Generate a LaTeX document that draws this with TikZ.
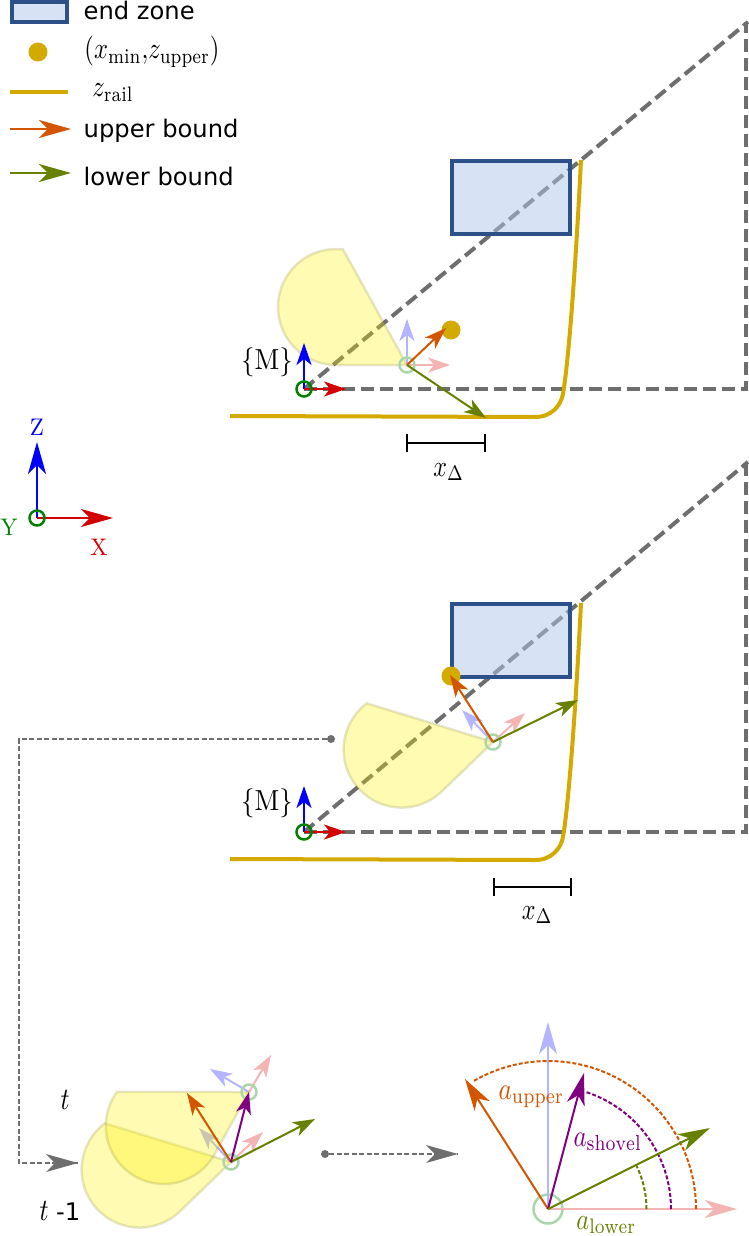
\documentclass[tikz,border=0pt]{standalone}
\usepackage{fontspec}
\usetikzlibrary{arrows.meta}
\newfontfamily\dejavu{DejaVu Sans}
\definecolor{cgold}{HTML}{D4AA00}
\definecolor{corange}{HTML}{D45500}
\definecolor{colive}{HTML}{668000}
\definecolor{cpurple}{HTML}{800080}
\definecolor{cgray}{HTML}{6E6E6E}
\definecolor{cred}{HTML}{D40000}
\definecolor{cgreen}{HTML}{008000}
\definecolor{cpblue}{HTML}{B4B4FF}
\definecolor{cppink}{HTML}{F5B4B4}
\definecolor{cpgreen}{HTML}{AAD7AA}
\definecolor{czone}{HTML}{AFC6E9}
\definecolor{czonee}{HTML}{2C5088}
\tikzset{
  x=1pt,y=1pt,
  bighead/.style={-{Stealth[length=32pt,width=18pt,inset=9pt]}},
  midhead/.style={-{Stealth[length=22pt,width=15pt,inset=6pt]}},
  limitline/.style={draw=cgray,line width=4pt,dash pattern=on 13pt off 6pt},
  guideline/.style={draw=cgray,line width=1.7pt,dash pattern=on 5pt off 2.5pt},
  zonebox/.style={draw=czonee,line width=4pt,fill=czone,fill opacity=.5,outer sep=0pt,inner sep=0pt},
  railline/.style={draw=cgold,line width=4pt},
  goldDot/.style={circle,fill=cgold,inner sep=0pt,minimum size=19pt},
  grayDot/.style={circle,fill=cgray,inner sep=0pt,minimum size=8pt},
  shovelshape/.style={fill=yellow,fill opacity=.3,draw={rgb,255:red,128;green,128;blue,40},draw opacity=.2,line width=2.5pt},
  ring/.style={circle,draw=#1,line width=2.5pt,fill=none,inner sep=0pt,minimum size=15pt},
  sanslabel/.style={font=\dejavu\fontsize{24.2}{28}\selectfont,anchor=base west,inner sep=0pt},
  mathlabel/.style n args={2}{xscale=#1,yscale=#2,transform shape,inner sep=0pt},
  barline/.style={draw=black,line width=2.5pt,{|[width=18pt]}-{|[width=18pt]}},
  arcline/.style={line width=2pt,dash pattern=on 4pt off 2pt},
}
\newcommand{\shovelat}[2]{\path[shovelshape,shift={(#1)},rotate=#2] (0,0) -- (-71,0) arc[start angle=270,end angle=83,radius=58] -- cycle;}
\begin{document}
\begin{tikzpicture}
\useasboundingbox (0,-1236) rectangle (748,0);
% ---------- coordinates
\coordinate (oA) at (304,-389);
\coordinate (oB) at (304,-832);
\coordinate (cA) at (746,-389);
\coordinate (cB) at (746,-832);
\coordinate (uA) at (746,-22);
\coordinate (uB) at (746,-465);
\coordinate (dA) at (748,-22);
\coordinate (dB) at (748,-462);
\coordinate (pA) at (407,-365);
\coordinate (pB) at (493,-742);
\coordinate (pT) at (249,-1092);
\coordinate (pS) at (231,-1162);
\coordinate (pD) at (548,-1209);
% ---------- limit triangles
\draw[limitline] (oA) -- (cA) -- (uA);
\draw[limitline] (oA) -- (dA);
\draw[limitline] (oB) -- (cB) -- (uB);
\draw[limitline] (oB) -- (dB);
% ---------- end zones
\node[zonebox,minimum width=118pt,minimum height=73pt,anchor=north west] (zoneA) at (451.5,-160.5) {};
\node[zonebox,minimum width=118pt,minimum height=73pt,anchor=north west] (zoneB) at (451.5,-603.5) {};
% ---------- rails
\draw[railline] (230,-416) -- (535,-417) .. controls (552,-417) and (561,-405) .. (563,-394) .. controls (568,-365) and (575,-280) .. (581,-160);
\draw[railline] (230,-859) -- (535,-860) .. controls (552,-860) and (561,-848) .. (563,-837) .. controls (568,-808) and (575,-723) .. (581,-603);
% ---------- pale frame arrows
\coordinate (pAz) at (407,-319); \coordinate (pAx) at (450,-365);
\coordinate (pBz) at (462,-710); \coordinate (pBx) at (525,-713);
\coordinate (pTz) at (210,-1069); \coordinate (pTx) at (271,-1055);
\coordinate (pSz) at (199,-1128); \coordinate (pSx) at (263,-1132);
\foreach \a/\b in {pA/pAz,pB/pBz,pT/pTz,pS/pSz}{\draw[midhead,draw=cpblue,fill=cpblue,line width=2pt] (\a) -- (\b);}
\foreach \a/\b in {pA/pAx,pB/pBx,pT/pTx,pS/pSx}{\draw[midhead,draw=cppink,fill=cppink,line width=2pt] (\a) -- (\b);}
% ---------- shovels
\shovelat{pA}{0}
\shovelat{pB}{44}
\shovelat{pS}{44}
\shovelat{pT}{61}
% ---------- pivots
\foreach \p/\n in {pA/rA,pB/rB,pT/rT,pS/rS}{\node[ring=cpgreen] (\n) at (\p) {};}
\node[ring=cpgreen,minimum size=29pt] (rD) at (pD) {};
% ---------- frame M
\coordinate (oAz) at (304,-343); \coordinate (oAx) at (346,-389);
\coordinate (oBz) at (304,-786); \coordinate (oBx) at (346,-832);
\foreach \a/\b in {oA/oAz,oB/oBz}{\draw[midhead,draw=blue,fill=blue,line width=2.5pt] (\a) -- (\b);}
\foreach \a/\b in {oA/oAx,oB/oBx}{\draw[midhead,draw=cred,fill=cred,line width=2.5pt] (\a) -- (\b);}
\node[ring=cgreen] (roA) at (oA) {};
\node[ring=cgreen] (roB) at (oB) {};
\node[mathlabel={2.7}{2.9},anchor=center] (mA) at (267,-362) {\{M\}};
\node[mathlabel={2.7}{2.9},anchor=center] (mB) at (267,-803) {\{M\}};
% ---------- goal dots
\node[goldDot] (dotA) at (451,-330) {};
\node[goldDot] (dotB) at (451,-676) {};
% ---------- upper / lower bound arrows
\coordinate (tipAu) at (446,-328); \coordinate (tipAl) at (486,-418);
\coordinate (tipBu) at (450,-675); \coordinate (tipBl) at (578,-700);
\draw[midhead,draw=corange,fill=corange,line width=2pt] (pA) -- (tipAu);
\draw[midhead,draw=colive,fill=colive,line width=2pt] (pA) -- (tipAl);
\draw[midhead,draw=corange,fill=corange,line width=2pt] (pB) -- (tipBu);
\draw[midhead,draw=colive,fill=colive,line width=2pt] (pB) -- (tipBl);
% ---------- x delta bars
\coordinate (bA1) at (405.5,-443); \coordinate (bA2) at (486,-443);
\coordinate (bB1) at (492.5,-887); \coordinate (bB2) at (572,-887);
\draw[barline] (bA1) -- (bA2);
\draw[barline] (bB1) -- (bB2);
\node[mathlabel={2.4}{3},anchor=base west] (xA) at (433,-476) {$x_\Delta$};
\node[mathlabel={2.4}{3},anchor=base west] (xB) at (521.5,-919) {$x_\Delta$};
% ---------- axes
\coordinate (ax0) at (37,-518); \coordinate (axZ) at (37,-442); \coordinate (axX) at (113,-518);
\draw[bighead,draw=blue,fill=blue,line width=2.5pt] (ax0) -- (axZ);
\draw[bighead,draw=cred,fill=cred,line width=2.5pt] (ax0) -- (axX);
\node[ring=cgreen] (axY) at (ax0) {};
\node[mathlabel={2.3}{2.4},text=blue,anchor=center] (lZ) at (37,-427) {Z};
\node[mathlabel={2.3}{2.4},text=cgreen,anchor=center] (lY) at (9,-527) {Y};
\node[mathlabel={2.3}{2.4},text=cred,anchor=center] (lX) at (99,-547) {X};
% ---------- legend
\node[zonebox,minimum width=55pt,minimum height=20pt,anchor=north west] (lgZone) at (12,-2) {};
\node[sanslabel] (lgZoneT) at (83.5,-20) {end zone};
\node[goldDot] (lgDot) at (38,-52) {};
\node[mathlabel={2.45}{3},anchor=base west] (lgDotT) at (84,-59) {$(x_{\min}{,}z_{\mathrm{upper}})$};
\coordinate (lgR1) at (10,-92); \coordinate (lgR2) at (68,-92);
\draw[railline] (lgR1) -- (lgR2);
\node[mathlabel={2.45}{3},anchor=base west] (lgRT) at (92,-97) {$z_{\mathrm{rail}}$};
\coordinate (lgU1) at (10,-129); \coordinate (lgU2) at (71,-129);
\coordinate (lgL1) at (10,-173); \coordinate (lgL2) at (71,-173);
\draw[bighead,draw=corange,fill=corange,line width=2pt] (lgU1) -- (lgU2);
\draw[bighead,draw=colive,fill=colive,line width=2pt] (lgL1) -- (lgL2);
\node[sanslabel] (lgUT) at (83.5,-137) {upper bound};
\node[sanslabel] (lgLT) at (83.5,-185) {lower bound};
% ---------- guide arrows
\node[grayDot] (gd1) at (331,-739) {};
\coordinate (gc1) at (19,-739); \coordinate (gc2) at (19,-1163); \coordinate (gt1) at (78,-1163);
\draw[guideline] (gd1) -- (gc1) -- (gc2) -- (gt1);
\node[grayDot] (gd2) at (325,-1154) {};
\coordinate (gt2) at (458,-1154);
\draw[guideline] (gd2) -- (gt2);
\path[draw=none,fill=cgray] (gt1) -- ++(-32,9) -- ++(9,-9) -- ++(-9,-9) -- cycle;
\path[draw=none,fill=cgray] (gt2) -- ++(-32,9) -- ++(9,-9) -- ++(-9,-9) -- cycle;
% ---------- time step arrows
\coordinate (tipSu) at (187,-1093); \coordinate (tipSp) at (249,-1092); \coordinate (tipSl) at (315,-1119);
\draw[midhead,draw=corange,fill=corange,line width=2pt] (pS) -- (tipSu);
\draw[midhead,draw=colive,fill=colive,line width=2pt] (pS) -- (tipSl);
\draw[midhead,draw=cpurple,fill=cpurple,line width=2pt] (pS) -- (tipSp);
\node[mathlabel={2.5}{3.1},anchor=base west] (lt) at (60,-1109) {$t$};
\node[mathlabel={2.5}{3.1},anchor=base west] (ltm) at (39,-1220) {$t$};
\node[sanslabel] (ltn) at (56,-1220) {-1};
% ---------- detail
\coordinate (dZ) at (548,-1022); \coordinate (dX) at (737,-1209);
\coordinate (dU) at (465,-1079); \coordinate (dP) at (584,-1073); \coordinate (dL) at (710,-1128);
\draw[bighead,draw=cpblue,fill=cpblue,line width=2pt] (pD) -- (dZ);
\draw[bighead,draw=cppink,fill=cppink,line width=2pt] (pD) -- (dX);
\draw[arcline,draw=corange] (696,-1209) arc[start angle=0,end angle=120.6,radius=148];
\draw[arcline,draw=cpurple] (671,-1209) arc[start angle=0,end angle=72,radius=123];
\draw[arcline,draw=colive] (646.5,-1209) arc[start angle=0,end angle=25.8,radius=98.5];
\draw[bighead,draw=corange,fill=corange,line width=2pt] (pD) -- (dU);
\draw[bighead,draw=cpurple,fill=cpurple,line width=2pt] (pD) -- (dP);
\draw[bighead,draw=colive,fill=colive,line width=2pt] (pD) -- (dL);
\node[mathlabel={2.55}{3.1},anchor=base west,text=corange] (aU) at (498,-1099) {$a_{\mathrm{upper}}$};
\node[mathlabel={2.5}{3.1},anchor=base west,text=cpurple] (aS) at (573,-1146) {$a_{\mathrm{shovel}}$};
\node[mathlabel={2.45}{3},anchor=base west,text=colive] (aL) at (576,-1229) {$a_{\mathrm{lower}}$};
\end{tikzpicture}
\end{document}
